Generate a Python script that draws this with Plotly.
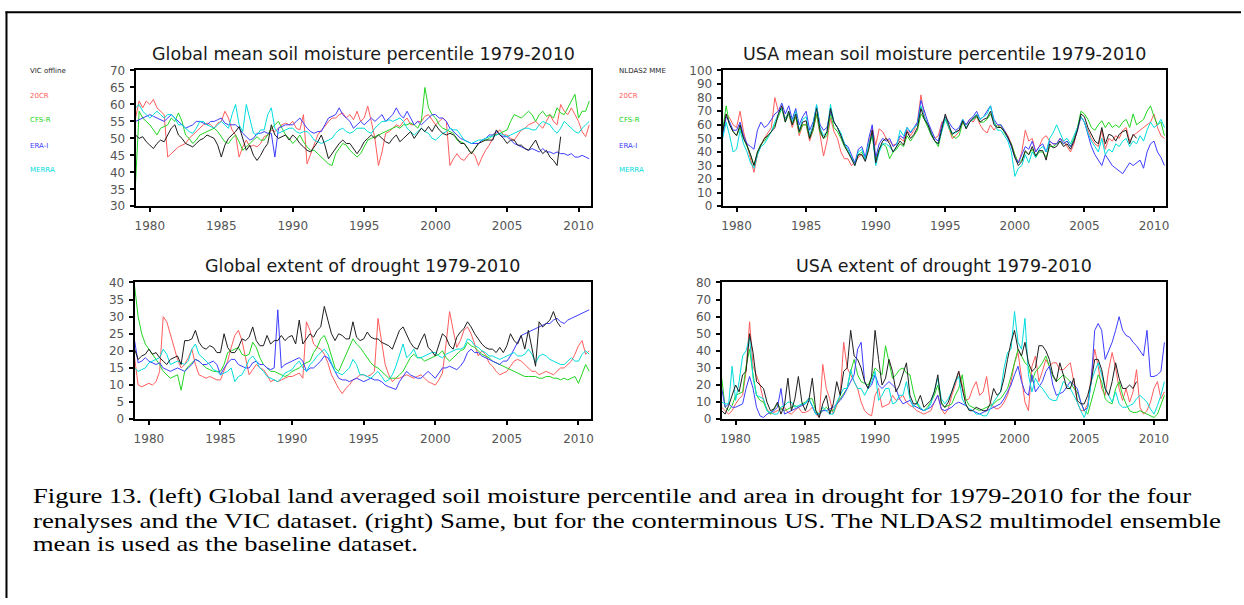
import json
import numpy as np
import plotly.graph_objects as go

# ---------------------------------------------------------------------------
# Quarterly series, 1979.00 onward in steps of 0.25 yr.
# Baselines (VIC offline / NLDAS2 MME) stop at the end of 2008.
# ---------------------------------------------------------------------------

# Global mean soil moisture percentile
gm_vic = [51, 50, 50.5, 49, 48, 47, 48.5, 49.5, 49, 51, 53, 54, 51, 50, 48.5, 48,
          47.5, 48.5, 49.5, 50, 51, 50.5, 50, 48, 44.5, 48, 50, 51, 52, 53.5, 50, 46.5,
          48, 45, 43.5, 45, 47, 48.5, 54, 51, 50, 50.5, 51, 49.5, 51, 50, 48.5, 47.5,
          46.5, 46, 47.5, 49, 51, 48, 44, 45.5, 47, 48.5, 49.5, 48.5, 48.5, 47, 45.5, 47,
          49, 50, 51, 50, 51, 50, 49, 48.5, 50, 51, 49, 50, 51, 52, 50, 51.5,
          53, 52, 53.5, 52, 54, 52.5, 51.5, 51, 51.5, 51, 50, 48.5, 48.5, 47, 45.5, 47,
          48.5, 49, 49.5, 49.5, 49.5, 52.5, 51, 50, 48.5, 49.5, 49.5, 48, 48, 47, 46.5, 48,
          49.5, 47, 45.5, 46.5, 44.5, 43.5, 42, 50.5]
gm_20cr = [56, 61, 59, 61, 60, 61.5, 59, 58, 57, 44.5, 45.5, 46.5, 47.5, 48, 48.5, 50,
           51, 52, 53, 54, 54.5, 54, 53, 54.5, 55, 58, 56, 52.5, 51, 44.5, 47.5, 49.5,
           47.5, 48, 47.5, 48.5, 50.5, 51, 52.5, 52, 53, 54, 54.5, 54, 55, 53, 52.5, 57,
           42.5, 45.5, 48.5, 51, 52.5, 53.5, 55, 56, 56, 57, 57.5, 56, 57, 55.5, 58, 55,
           56, 59.5, 55, 50, 42, 46, 51.5, 52, 53, 54, 53.5, 55, 56, 54, 54, 55,
           55, 56.5, 57, 55.5, 54, 55, 56, 55, 42, 44, 45.5, 44, 43.5, 45, 46, 45,
           42, 44.5, 46.5, 48, 50, 51.5, 52.5, 51, 51, 50, 49.5, 51, 52.5, 53, 54, 54.5,
           55, 54, 53, 55, 57, 55, 54, 60, 58, 57, 59, 57, 55, 52, 50.5, 54]
gm_cfsr = [37, 58, 56, 55, 54, 52.5, 51, 53, 53.5, 54, 56, 55, 57.5, 55, 51, 50,
           48.5, 49.5, 51, 51.5, 52, 52.5, 53, 52, 50.5, 49, 48.5, 50, 51, 49, 46.5, 47.5,
           48.5, 49.5, 50.5, 49.5, 49.5, 51, 53, 54, 55, 53, 51, 50, 48.5, 49.5, 51, 49,
           47.5, 46.5, 46.5, 45.5, 44.5, 43.5, 42.5, 42, 45.5, 47, 48.5, 48, 46.5, 45.5, 44.5, 45.5,
           47.5, 49.5, 50, 50.5, 51, 51.5, 52, 52.5, 53, 53.5, 53, 54, 54, 54.5, 54, 53,
           55, 65, 59, 57, 56, 54, 53, 52.5, 52, 51.5, 49.5, 49, 48.5, 47, 45.5, 47,
           48.5, 49.5, 49.5, 50, 51, 51, 51.5, 52, 52.5, 55, 57, 56.5, 56, 57, 58, 57,
           55, 57, 58, 56.5, 57, 56, 59, 57.5, 57, 59, 61, 63, 56, 58, 58, 61]
gm_erai = [55, 55.5, 56, 56.5, 57, 56.5, 56, 55.5, 55, 56, 57, 56, 55, 54, 53, 53.5,
           54, 55, 55, 54.5, 54, 55, 55, 55.5, 56, 54.5, 54, 54, 54, 53, 51.5, 50.5,
           49.5, 50, 51.5, 51.5, 52, 51.5, 51.5, 44.5, 53, 53.5, 54, 54, 54, 55, 56, 54.5,
           53, 52, 51.5, 52, 52, 54, 56, 56.5, 57, 59, 57, 56, 55, 53, 54, 55,
           54, 55, 56, 55, 56, 57, 55, 56, 57, 59, 57, 56, 58, 56, 54, 55,
           54, 55, 56, 57, 57, 56, 56, 55, 53, 52, 51, 50, 49.5, 49, 48.5, 48.5,
           48.5, 49.5, 50, 51, 51, 52, 51, 50.5, 50.5, 49.5, 48.5, 48, 47.5, 47, 46.5, 47,
           46.5, 46, 47, 46, 46, 45.5, 46, 45.5, 45.5, 45, 45.5, 44.5, 44.5, 45, 44.5, 44]
gm_merra = [59, 60, 58, 57, 56, 57, 58, 57, 56, 57, 57, 56, 54, 54, 53, 52,
            51.5, 53, 55, 55, 54, 53.5, 53, 54, 55, 54, 53, 57, 60, 54, 52, 60,
            56, 51.5, 51, 52.5, 52.5, 57, 59, 53, 51.5, 52, 52.5, 53, 53, 52, 51.5, 52,
            52, 51, 49.5, 49, 48.5, 49, 49.5, 50, 51.5, 52.5, 53, 52, 51.5, 52, 53, 53,
            53, 52, 51.5, 53, 54, 55, 55, 55.5, 55, 55.5, 56, 55, 53, 52, 51, 52,
            53, 52, 51.5, 50, 49.5, 50.5, 51.5, 52, 53, 52.5, 52.5, 51, 49.5, 49, 48.5, 49,
            49.5, 49.5, 50, 50.5, 50.5, 51, 51.5, 51, 50.5, 51, 51.5, 52, 52.5, 53, 53, 52.5,
            52.5, 54, 55, 54.5, 54, 52.5, 51.5, 53, 55, 54, 53, 52, 51.5, 53, 54, 55]

# USA mean soil moisture percentile
um_nldas = [55, 68, 60, 55, 52, 60, 50, 45, 38, 30, 40, 45, 50, 52, 55, 58,
            68, 74, 62, 70, 60, 68, 55, 62, 63, 50, 58, 72, 56, 50, 55, 72,
            62, 58, 52, 45, 40, 35, 30, 38, 38, 33, 42, 56, 32, 42, 48, 50,
            46, 40, 44, 48, 45, 55, 50, 53, 58, 72, 64, 60, 53, 48, 46, 58,
            68, 60, 53, 55, 56, 63, 57, 62, 65, 67, 62, 64, 65, 70, 60, 58,
            58, 55, 51, 45, 36, 30, 33, 41, 38, 44, 37, 41, 41, 34, 46, 43,
            44, 48, 44, 46, 42, 48, 56, 68, 66, 58, 53, 48, 46, 58, 46, 53,
            52, 48, 53, 55, 56, 46, 53, 50]
um_20cr = [55, 68, 65, 60, 58, 70, 55, 45, 35, 25, 38, 45, 50, 54, 58, 80,
           70, 72, 65, 68, 58, 66, 52, 60, 60, 48, 56, 68, 52, 37, 48, 65,
           55, 50, 40, 35, 35, 30, 32, 36, 38, 34, 46, 58, 45, 57, 55, 50,
           48, 45, 46, 50, 48, 56, 52, 56, 62, 82, 66, 60, 55, 50, 52, 62,
           64, 58, 50, 52, 55, 62, 60, 64, 62, 66, 60, 56, 54, 60, 56, 60,
           58, 56, 52, 46, 38, 32, 40, 56, 48, 50, 40, 44, 50, 52, 48, 46,
           46, 50, 48, 44, 40, 46, 58, 66, 62, 56, 50, 46, 44, 56, 42, 50,
           48, 52, 50, 56, 58, 48, 52, 54, 56, 58, 60, 62, 68, 58, 52, 50]
um_cfsr = [56, 74, 60, 55, 52, 58, 50, 44, 38, 30, 40, 46, 48, 52, 55, 60,
           66, 72, 62, 68, 60, 66, 54, 60, 60, 50, 56, 68, 54, 50, 52, 68,
           58, 55, 50, 44, 40, 36, 32, 38, 40, 35, 44, 52, 34, 42, 46, 44,
           35, 40, 42, 46, 44, 52, 48, 52, 56, 68, 64, 58, 52, 48, 44, 56,
           66, 58, 52, 50, 52, 62, 58, 62, 64, 66, 62, 62, 64, 68, 62, 58,
           60, 54, 50, 46, 38, 32, 34, 40, 38, 42, 36, 40, 40, 36, 44, 44,
           46, 48, 46, 48, 44, 50, 58, 70, 68, 64, 58, 56, 60, 63, 58, 62,
           58, 60, 58, 62, 64, 58, 68, 60, 62, 64, 70, 74, 66, 60, 62, 52]
um_erai = [52, 66, 62, 56, 56, 62, 52, 46, 44, 42, 56, 62, 58, 60, 64, 68,
           70, 76, 68, 74, 64, 72, 60, 66, 70, 56, 62, 74, 60, 56, 58, 70,
           62, 58, 52, 46, 44, 38, 32, 42, 44, 36, 50, 60, 36, 46, 50, 48,
           50, 44, 46, 52, 50, 58, 54, 58, 62, 78, 70, 62, 56, 50, 48, 60,
           66, 62, 58, 56, 58, 64, 60, 64, 66, 70, 64, 66, 70, 74, 64, 60,
           60, 56, 50, 44, 36, 32, 38, 44, 42, 48, 40, 44, 46, 40, 48, 46,
           46, 50, 46, 48, 44, 48, 56, 66, 62, 52, 44, 38, 34, 30, 38, 34,
           30, 28, 26, 24, 28, 32, 30, 32, 34, 28, 40, 46, 48, 40, 36, 30]
um_merra = [50, 62, 52, 40, 42, 56, 46, 40, 32, 28, 38, 44, 46, 50, 55, 62,
            68, 72, 64, 70, 62, 70, 56, 64, 66, 52, 60, 75, 58, 52, 55, 75,
            62, 58, 54, 46, 42, 36, 30, 40, 42, 34, 46, 54, 30, 40, 46, 46,
            44, 40, 44, 56, 52, 58, 55, 58, 60, 74, 66, 60, 54, 48, 46, 56,
            64, 58, 54, 54, 56, 64, 58, 62, 64, 68, 64, 66, 68, 74, 62, 56,
            56, 52, 48, 40, 22, 28, 30, 38, 32, 40, 36, 42, 44, 40, 50, 54,
            60, 54, 48, 50, 46, 52, 58, 66, 62, 54, 48, 44, 40, 50, 38, 42,
            40, 46, 44, 48, 50, 44, 48, 46, 52, 48, 56, 62, 58, 60, 64, 58]

# Global extent of drought (%)
gd_vic = [20.5, 17.5, 18.5, 19, 20.5, 19, 19.5, 18, 17, 16, 17.5, 18, 18.5, 16, 23, 23,
          23.5, 26, 22.5, 21, 20.5, 21.5, 21, 19.5, 19.5, 25, 21, 19.5, 19.5, 21, 23.5, 23,
          24, 27, 23, 21.5, 21.5, 24.5, 22, 23, 23, 24.5, 23, 24, 24.5, 22, 29, 22,
          23.5, 25, 24, 26, 27, 33, 29, 25, 23, 25, 24.5, 23.5, 23.5, 28.5, 24, 23,
          23.5, 25.5, 24, 23.5, 23.5, 22.5, 22, 21.5, 20.5, 23, 26, 27, 24.5, 22.5, 21, 20.5,
          23, 25, 21, 20, 18.5, 22, 25, 24, 21.5, 20.5, 24, 25.5, 26.5, 28.5, 27, 25,
          23.5, 22, 21, 20.5, 20.5, 19.5, 21, 19.5, 21.5, 25, 23, 22, 24.5, 20.5, 26, 21,
          15.5, 28.5, 27, 28, 29, 31.5, 28.5, 27]
gd_20cr = [18, 10, 9.5, 10, 10.5, 10, 11, 14, 30, 28.5, 25, 21, 17.5, 15, 16, 18,
           20.5, 16, 13, 12.5, 12, 12.5, 12, 11.5, 11.5, 14, 17, 21, 24.5, 26, 23, 18,
           13, 14.5, 16, 15, 14.5, 13, 11, 11.5, 11, 11.5, 12, 12.5, 12.5, 13, 13.5, 12,
           28.5, 26, 22, 21, 20.5, 19, 16.5, 13, 11, 9, 7.5, 9, 10, 11.5, 12, 13,
           13, 12.5, 13, 14, 29.5, 23, 16, 13, 11, 12, 12, 12.5, 13, 12.5, 12, 12.5,
           13, 12, 11, 10.5, 10, 11.5, 13.5, 22, 31.5, 26, 21, 23, 26, 27, 25, 22,
           18.5, 20, 19, 16.5, 15.5, 14, 13, 13.5, 14, 15.5, 17, 17.5, 17, 16, 15, 14,
           14, 13, 13.5, 14, 13.5, 13, 14, 15, 15, 16, 17, 19, 21.5, 23, 19, 20]
gd_cfsr = [39, 30, 25, 22, 20.5, 19, 17.5, 16, 14, 13, 12, 12.5, 13, 8.5, 14, 15.5,
           16.5, 17.5, 17, 16, 15, 14.5, 14, 14, 14, 16, 19.5, 20, 20.5, 21, 19, 18.5,
           19, 22.5, 21, 18, 16, 15, 14, 14, 13.5, 13, 12.5, 13, 14, 14.5, 15, 16,
           16.5, 17, 19.5, 21, 23.5, 24.5, 22, 18.5, 15, 14, 16.5, 19, 21, 23.5, 22, 21,
           19.5, 18, 16.5, 15.5, 15, 14, 13, 12, 12, 12, 13, 14, 16, 18, 19, 18,
           18, 17, 17.5, 18, 18.5, 19, 20, 18, 17, 18, 19, 20, 20.5, 22.5, 21.5, 21,
           20, 19, 18.5, 18, 17, 16.5, 16, 15.5, 15, 14.5, 14, 13.5, 13, 12.5, 12.5, 12.5,
           12.5, 12, 12, 12.5, 12.5, 12, 12, 11.5, 12, 11.5, 12, 12.5, 10.5, 13, 16, 14]
gd_erai = [23, 16.5, 17, 18, 17, 16.5, 16, 16.5, 15, 14.5, 14, 14.5, 15, 14.5, 14, 15,
           16, 17.5, 17, 16, 16, 16.5, 17, 16, 13, 15, 16.5, 17.5, 17.5, 16, 15.5, 15,
           15, 16.5, 17, 16, 16, 15, 14.5, 15, 32, 15, 16, 16.5, 17, 17.5, 18, 17,
           14, 15, 15, 16, 17, 18.5, 18, 16, 14, 12, 11.5, 11.5, 11, 11.5, 12, 11.5,
           11, 11.5, 12, 11.5, 11.5, 11, 10, 9.5, 9, 8.7, 11, 12.5, 14, 13, 12.5, 12,
           12, 13, 14, 13, 12, 13.5, 15, 15, 15.5, 15, 14.5, 15.5, 17, 19.5, 20.5, 19.5,
           19.5, 18.5, 18, 17.5, 17, 16.5, 16, 17, 17, 18.5, 20.5, 22.5, 24.5, 25, 25.5, 26,
           26.5, 27, 27.5, 28, 28, 29, 29.5, 28.5, 28, 29, 29.5, 30, 30.5, 31, 31.5, 32]
gd_merra = [15, 14, 14.5, 15, 16.5, 17, 17.5, 18, 20.5, 19, 16, 16.5, 17, 16.5, 16, 17,
            20.5, 22, 19, 18, 17, 16, 14.5, 14, 13, 13.5, 14, 15, 11, 12.5, 13, 15,
            17.5, 18.5, 17, 15, 14, 12.5, 12, 11.5, 11, 12, 13.5, 14, 14.5, 16, 17, 15,
            14, 16, 17, 18.5, 19.5, 20.5, 19, 16.5, 14, 13.5, 13, 14, 15, 17.5, 16, 13,
            13, 12.5, 12, 13, 14, 12.5, 11, 11.5, 13, 15.5, 19, 22, 18, 19, 20.5, 18,
            18, 18.5, 19, 19.5, 19.5, 18.5, 18, 19, 19.5, 20, 20.5, 20.5, 21, 23.5, 23, 21.5,
            21, 20, 19.5, 18.5, 18.5, 18, 17.5, 18, 18.5, 19, 19.5, 18.5, 18.5, 19, 20.5, 19,
            16.5, 18.5, 19, 18.5, 17.5, 17, 16.5, 16, 16, 17, 18, 17, 17, 19, 20, 19]

# USA extent of drought (%)
ud_nldas = [5, 3, 8, 14, 20, 16, 26, 28, 50, 39, 22, 20, 18, 10, 5, 6,
            10, 3, 8, 24, 5, 12, 25, 10, 5, 11, 24, 5, 1, 9, 14, 3,
            9, 22, 14, 28, 30, 52, 37, 35, 30, 22, 18, 25, 52, 35, 20, 24,
            35, 28, 16, 20, 26, 33, 14, 9, 9, 14, 7, 9, 11, 16, 26, 9,
            7, 10, 16, 22, 28, 18, 9, 5, 5, 7, 6, 5, 5, 9, 18, 14,
            16, 24, 35, 45, 52, 41, 37, 45, 33, 28, 30, 43, 43, 40, 35, 26,
            22, 33, 26, 18, 18, 24, 11, 9, 9, 14, 22, 35, 35, 29, 18, 14,
            22, 33, 24, 18, 18, 20, 18, 22]
ud_20cr = [7, 5, 3, 5, 9, 12, 14, 28, 57, 31, 26, 20, 11, 6, 3, 4,
           5, 6, 7, 4, 3, 5, 7, 4, 4, 5, 7, 3, 1, 32, 18, 12,
           3, 8, 14, 45, 30, 26, 22, 18, 10, 5, 3, 2, 14, 18, 7, 8,
           9, 14, 11, 12, 14, 10, 8, 7, 5, 4, 3, 4, 5, 10, 14, 6,
           3, 6, 14, 20, 28, 20, 11, 12, 18, 22, 14, 16, 25, 10, 7, 6,
           7, 10, 14, 22, 33, 39, 24, 10, 5, 31, 37, 22, 28, 35, 31, 33,
           33, 29, 29, 31, 33, 22, 10, 5, 5, 9, 26, 41, 31, 18, 14, 29,
           39, 30, 18, 11, 18, 10, 16, 29, 7, 3, 5, 10, 18, 22, 12, 16]
ud_cfsr = [24, 7, 5, 8, 14, 15, 16, 31, 41, 26, 14, 11, 10, 5, 3, 6,
           9, 6, 5, 6, 7, 8, 7, 9, 10, 12, 12, 5, 3, 5, 7, 5,
           5, 9, 12, 15, 18, 28, 35, 26, 22, 21, 20, 24, 30, 28, 26, 43,
           33, 24, 26, 29, 30, 27, 26, 16, 9, 6, 5, 7, 10, 14, 20, 10,
           7, 8, 9, 14, 18, 26, 12, 8, 7, 6, 5, 6, 7, 8, 9, 11,
           12, 15, 18, 25, 33, 41, 37, 33, 31, 22, 28, 30, 33, 37, 31, 25,
           22, 24, 26, 24, 22, 18, 16, 10, 5, 3, 10, 18, 26, 22, 12, 10,
           9, 18, 22, 14, 9, 5, 4, 4, 5, 4, 3, 2, 1, 3, 9, 14]
ud_erai = [18, 7, 9, 7, 7, 8, 9, 18, 25, 18, 7, 2, 1, 3, 4, 5,
           7, 18, 3, 4, 5, 6, 7, 8, 9, 12, 7, 3, 3, 5, 5, 6,
           7, 9, 11, 14, 18, 22, 26, 41, 45, 22, 18, 20, 26, 20, 18, 20,
           22, 20, 18, 12, 9, 10, 11, 8, 7, 6, 5, 6, 7, 10, 14, 6,
           5, 6, 7, 9, 10, 9, 8, 6, 5, 4, 3, 4, 5, 6, 7, 8,
           9, 12, 16, 20, 26, 31, 22, 16, 14, 26, 16, 19, 22, 28, 31, 20,
           14, 15, 16, 19, 22, 20, 18, 10, 5, 7, 22, 52, 56, 52, 35, 40,
           45, 52, 60, 52, 49, 48, 45, 43, 40, 37, 52, 25, 25, 26, 28, 45]
ud_merra = [10, 9, 9, 31, 11, 22, 37, 40, 48, 24, 14, 13, 12, 5, 4, 3,
            3, 7, 8, 10, 10, 7, 8, 9, 9, 12, 8, 3, 3, 7, 5, 3,
            3, 10, 14, 18, 18, 29, 22, 18, 18, 14, 18, 22, 28, 11, 14, 18,
            18, 9, 10, 14, 14, 22, 12, 7, 10, 7, 5, 6, 9, 16, 24, 12,
            9, 12, 16, 22, 25, 12, 8, 6, 5, 3, 3, 2, 2, 6, 10, 13,
            16, 30, 39, 41, 63, 45, 41, 59, 26, 16, 24, 20, 18, 15, 12, 11,
            11, 16, 22, 20, 18, 14, 10, 5, 1, 7, 22, 28, 33, 26, 18, 14,
            10, 16, 9, 7, 7, 8, 9, 12, 14, 12, 10, 6, 3, 8, 14, 22]

YEAR0, STEP = 1979.0, 0.25

CAPTION = [
    "Figure 13. (left) Global land averaged soil moisture percentile and area in drought for 1979-2010 for the four",
    "renalyses and the VIC dataset. (right) Same, but for the conterminous US. The NLDAS2 multimodel ensemble",
    "mean is used as the baseline dataset.",
]
# set width (px) of each caption line
CAPTION_WIDTH = [1158, 1188, 385]

# ---------------------------------------------------------------------------
W, H = 1244, 605
RED, GREEN, BLUE, CYAN, BLACK = "#ff5c5c", "#22d422", "#3c3cff", "#00dcdc", "#1e1e1e"
TICK_GRAY = "#555555"
SANS = "DejaVu Sans"


def fx(x):
    return x / W


def fy(y):
    return 1 - y / H


panels = [
    dict(box=(135, 592, 65, 204), yr=(30, 70), dt=5,
         title="Global mean soil moisture percentile 1979-2010",
         series=[(gm_20cr, RED), (gm_cfsr, GREEN), (gm_erai, BLUE), (gm_merra, CYAN), (gm_vic, BLACK)]),
    dict(box=(724, 1169, 65, 204), yr=(0, 100), dt=10,
         title="USA mean soil moisture percentile 1979-2010",
         series=[(um_20cr, RED), (um_cfsr, GREEN), (um_erai, BLUE), (um_merra, CYAN), (um_nldas, BLACK)]),
    dict(box=(134, 592, 282, 422), yr=(0, 40), dt=5,
         title="Global extent of drought 1979-2010",
         series=[(gd_20cr, RED), (gd_cfsr, GREEN), (gd_erai, BLUE), (gd_merra, CYAN), (gd_vic, BLACK)]),
    dict(box=(723, 1169, 282, 422), yr=(0, 80), dt=10,
         title="USA extent of drought 1979-2010",
         series=[(ud_20cr, RED), (ud_cfsr, GREEN), (ud_erai, BLUE), (ud_merra, CYAN), (ud_nldas, BLACK)]),
]

fig = go.Figure()
annotations = []
layout_axes = {}

for i, p in enumerate(panels, start=1):
    x0, x1, y0, y1 = p["box"]
    xa = "x" if i == 1 else f"x{i}"
    ya = "y" if i == 1 else f"y{i}"
    for vals, col in p["series"]:
        t = YEAR0 + STEP * np.arange(len(vals))
        fig.add_trace(go.Scatter(x=t, y=vals, mode="lines", xaxis=xa, yaxis=ya,
                                 line=dict(color=col, width=1), showlegend=False,
                                 hoverinfo="skip"))
    common = dict(showline=True, mirror=True, linecolor="black", linewidth=2,
                  ticks="outside", ticklen=4, tickwidth=1.5, tickcolor="black",
                  showgrid=False, zeroline=False, fixedrange=True,
                  tickfont=dict(family=SANS, size=12, color=TICK_GRAY))
    layout_axes["xaxis" if i == 1 else f"xaxis{i}"] = dict(
        domain=[fx(x0), fx(x1)], range=[1979.0, 2010.88], anchor=ya,
        tickmode="array", tickvals=[1980, 1985, 1990, 1995, 2000, 2005, 2010],
        ticklabelstandoff=3, **common)
    layout_axes["yaxis" if i == 1 else f"yaxis{i}"] = dict(
        domain=[fy(y1), fy(y0)], range=list(p["yr"]), anchor=xa,
        dtick=p["dt"], tick0=0, ticklabelstandoff=2, **common)
    annotations.append(dict(text=p["title"], x=fx((x0 + x1) / 2), y=fy(y0 - 17),
                            xref="paper", yref="paper", showarrow=False,
                            xanchor="center", yanchor="middle",
                            font=dict(family=SANS, size=17.5, color="#1a1a1a")))

# Series name columns beside each row of panels
names_left = [("VIC offline", BLACK), ("20CR", RED), ("CFS-R", GREEN), ("ERA-I", BLUE), ("MERRA", CYAN)]
names_right = [("NLDAS2 MME", BLACK), ("20CR", RED), ("CFS-R", GREEN), ("ERA-I", BLUE), ("MERRA", CYAN)]
rows_y = [66, 91, 116, 142, 167]
for names, xpos in ((names_left, 27), (names_right, 618)):
    for (label, col), yy in zip(names, rows_y):
        annotations.append(dict(text=label, x=fx(xpos), y=fy(yy), xref="paper", yref="paper",
                                showarrow=False, xanchor="left", yanchor="middle",
                                font=dict(family=SANS, size=7, color=col)))

# Caption under the figure
for line, yy in zip(CAPTION, [501, 526, 550]):
    annotations.append(dict(text=line, x=fx(30), y=fy(yy), xref="paper", yref="paper",
                            showarrow=False, xanchor="left", yanchor="middle", align="left",
                            font=dict(family="Liberation Serif", size=21, color="black")))

# Page frame: left and top rules
shapes = [
    dict(type="line", xref="paper", yref="paper", x0=fx(5.5), x1=fx(5.5), y0=0, y1=fy(4.5),
         line=dict(color="black", width=2)),
    dict(type="line", xref="paper", yref="paper", x0=fx(4.5), x1=1, y0=fy(5.5), y1=fy(5.5),
         line=dict(color="black", width=2)),
]

fig.update_layout(width=W, height=H, margin=dict(l=0, r=0, t=0, b=0),
                  paper_bgcolor="white", plot_bgcolor="white",
                  annotations=annotations, shapes=shapes, **layout_axes)

# Caption lines are set to a fixed typeset width
post = """
var widths = %s;
document.querySelectorAll('.annotation-text').forEach(function (n) {
  var w = widths[n.textContent];
  if (w) {
    n.setAttribute('text-anchor', 'start');
    n.setAttribute('textLength', w);
    n.setAttribute('lengthAdjust', 'spacingAndGlyphs');
  }
});
""" % json.dumps(dict(zip(CAPTION, CAPTION_WIDTH)))

fig.write_html("out.html", post_script=post)
